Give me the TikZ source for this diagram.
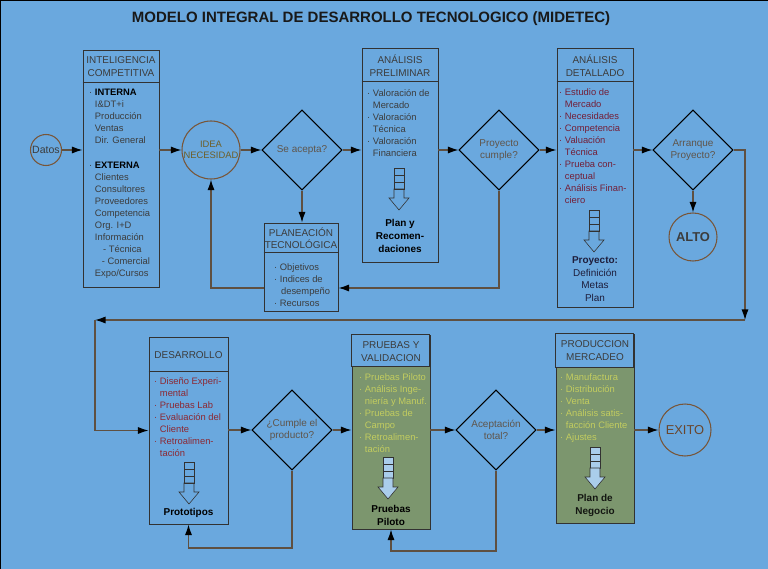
\documentclass[tikz,border=0pt]{standalone}
\usepackage{fontspec}
\setmainfont{Liberation Sans}
\usetikzlibrary{shapes.geometric,arrows.meta,calc}
\newcommand\pxl{0.03cm}
\newcommand\bind{\phantom{· }}
\definecolor{bgblue}{RGB}{106,168,222}
\definecolor{boxgreen}{RGB}{124,150,110}
\definecolor{boxline}{RGB}{50,50,50}
\definecolor{connline}{RGB}{95,80,65}
\definecolor{circline}{RGB}{120,85,55}
\definecolor{graytext}{RGB}{60,60,60}
\definecolor{maroontext}{RGB}{115,30,55}
\definecolor{redtext}{RGB}{140,40,50}
\definecolor{greentext}{RGB}{195,205,95}
\definecolor{navytext}{RGB}{30,30,60}
\definecolor{dectext}{RGB}{95,85,75}
\definecolor{ideatext}{RGB}{110,95,40}
\definecolor{brtext}{RGB}{105,70,45}
\definecolor{lightarrow}{RGB}{170,205,235}
\def\iconfill{none}
\tikzset{
  iconfill/.code={\def\iconfill{#1}},
  iconline/.style={draw=boxline, line width=0.5pt},
  docicon/.pic={
    \draw[iconline,fill=\iconfill] (-5,0) rectangle (5,7);
    \draw[iconline,fill=\iconfill] (-5,7) rectangle (5,14);
    \draw[iconline,fill=\iconfill] (-5,14) rectangle (5,21);
    \draw[iconline,fill=\iconfill] (-5,21) -- (5,21) -- (5,30) -- (10,30) -- (0,42) -- (-10,30) -- (-5,30) -- cycle;
  },
  box/.style={rectangle, draw=boxline, line width=0.8pt, fill=bgblue, inner sep=0},
  gbox/.style={box, fill=boxgreen},
  hline/.style={draw=boxline, line width=0.8pt},
  dec/.style={diamond, aspect=1, draw=black, line width=0.9pt, fill=bgblue, inner sep=0,
    minimum width={80*\pxl}, minimum height={80*\pxl}, align=center, text=dectext,
    font=\fontsize{8.5}{9.8}\selectfont},
  circ/.style={circle, draw=circline, line width=0.9pt, fill=bgblue, inner sep=0, align=center},
  conn/.style={draw=connline, line width=1pt, -{Latex[length=9pt,width=6pt,color=black]}},
  plain/.style={draw=connline, line width=1pt},
  body/.style={anchor=north west, inner sep=0, align=left, font=\fontsize{8}{10.3}\selectfont},
  hdr/.style={inner sep=0, align=center, text=graytext, font=\fontsize{8.5}{11}\selectfont},
  outp/.style={inner sep=0, align=center, font=\bfseries\fontsize{8.5}{11}\selectfont}
}
\begin{document}
\begin{tikzpicture}[x=0.03cm, y=-0.03cm]
\useasboundingbox (0,0) rectangle (768,569);
\fill[bgblue] (0,0) rectangle (768,569);
\draw[black, line width=1.5pt] (0,569) -- (0,0.5) -- (768,0.5);

\node[inner sep=0, font=\bfseries\fontsize{12.8}{15}\selectfont, text=black!90] (title) at (371,19) {MODELO INTEGRAL DE DESARROLLO TECNOLOGICO (MIDETEC)};

% ---- boxes ----
\node[box, minimum width={76*\pxl}, minimum height={237*\pxl}] (intel) at (121,168.5) {};
\draw[hline] ($(intel.north west)+(0,33)$) -- ($(intel.north east)+(0,33)$);
\node[box, minimum width={76*\pxl}, minimum height={214*\pxl}] (prelim) at (400,155) {};
\draw[hline] ($(prelim.north west)+(0,34)$) -- ($(prelim.north east)+(0,34)$);
\node[box, minimum width={76*\pxl}, minimum height={259*\pxl}] (det) at (595,177.5) {};
\draw[hline] ($(det.north west)+(0,34)$) -- ($(det.north east)+(0,34)$);
\node[box, minimum width={74*\pxl}, minimum height={88*\pxl}] (plan) at (301,267) {};
\draw[hline] ($(plan.north west)+(0,30)$) -- ($(plan.north east)+(0,30)$);
\node[box, minimum width={79*\pxl}, minimum height={187*\pxl}] (des) at (188.5,430.5) {};
\draw[hline] ($(des.north west)+(0,35)$) -- ($(des.north east)+(0,35)$);
\node[gbox, minimum width={78*\pxl}, minimum height={194*\pxl}] (pru) at (391,432) {};
\filldraw[fill=bgblue, hline] (pru.north west) rectangle ($(pru.north west)+(78,32)$);
\node[gbox, minimum width={78*\pxl}, minimum height={189*\pxl}] (prod) at (595,428.5) {};
\filldraw[fill=bgblue, hline] (prod.north west) rectangle ($(prod.north west)+(78,34)$);

% ---- circles and decisions ----
\node[circ, minimum size={31*\pxl}, text=graytext, font=\fontsize{9}{10}\selectfont] (datos) at (46,150) {Datos};
\node[circ, minimum size={58*\pxl}, text=ideatext, font=\fontsize{8}{9.4}\selectfont] (idea) at (211,150) {IDEA\\NECESIDAD};
\node[circ, minimum size={48*\pxl}, text=graytext, font=\bfseries\fontsize{11}{12}\selectfont] (alto) at (693,237) {ALTO};
\node[circ, minimum size={52*\pxl}, text=brtext, font=\fontsize{11}{12}\selectfont] (exito) at (685,430) {EXITO};
\node[dec] (sea) at (302,150) {Se acepta?};
\node[dec] (pc) at (499,150) {Proyecto\\cumple?};
\node[dec] (arr) at (693,150) {Arranque\\Proyecto?};
\node[dec] (cp) at (292,430) {¿Cumple el\\producto?};
\node[dec] (at) at (496,430) {Aceptación\\total?};

% ---- headers ----
\node[hdr] (intelh) at (121,66.5) {INTELIGENCIA\\COMPETITIVA};
\node[hdr] (prelimh) at (400,65.5) {ANÁLISIS\\PRELIMINAR};
\node[hdr] (deth) at (595,65.5) {ANÁLISIS\\DETALLADO};
\node[hdr, font=\fontsize{8.5}{10}\selectfont] (planh) at (301,238.5) {PLANEACIÓN\\TECNOLÓGICA};
\node[hdr] (desh) at (188.5,355) {DESARROLLO};
\node[hdr] (pruh) at (391,352) {PRUEBAS Y\\VALIDACION};
\node[hdr] (prodh) at (595,351) {PRODUCCION\\MERCADEO};

% ---- bodies ----
\node[body, text=graytext] (intelb) at (89,89) {· \textcolor{black}{\bfseries INTERNA}\\
\bind I\&DT+i\\ \bind Producción\\ \bind Ventas\\ \bind Dir. General\\[10.3pt]
· \textcolor{black}{\bfseries EXTERNA}\\ \bind Clientes\\ \bind Consultores\\ \bind Proveedores\\
\bind Competencia\\ \bind Org. I+D\\ \bind Información\\ \bind\hspace{7pt}- Técnica\\
\bind\hspace{6pt}- Comercial\\ \bind Expo/Cursos};
\node[body, text=graytext] (prelimb) at (367,89) {· Valoración de\\ \bind Mercado\\ · Valoración\\ \bind Técnica\\ · Valoración\\ \bind Financiera};
\node[body, text=graytext] (planb) at (274,263) {· Objetivos\\ · Indices de\\ \bind\hspace{1pt}desempeño\\ · Recursos};
\node[body, text=maroontext] (detb) at (559,88) {· Estudio de\\ \bind Mercado\\ · Necesidades\\ · Competencia\\ · Valuación\\ \bind Técnica\\ · Prueba con-\\ \bind ceptual\\ · Análisis Finan-\\ \bind ciero};
\node[body, text=redtext] (desb) at (154,377) {· Diseño Experi-\\ \bind mental\\ · Pruebas Lab\\ · Evaluación del\\ \bind Cliente\\ · Retroalimen-\\ \bind tación};
\node[body, text=greentext] (prub) at (359,373) {· Pruebas Piloto\\ · Análisis Inge-\\ \bind niería y Manuf.\\ · Pruebas de\\ \bind Campo\\ · Retroalimen-\\ \bind tación};
\node[body, text=greentext] (prodb) at (560,373) {· Manufactura\\ · Distribución\\ · Venta\\ · Análisis satis-\\ \bind facción Cliente\\ · Ajustes};

% ---- icons ----
\pic at (399,168) {docicon};
\pic at (594,210) {docicon};
\pic at (189,462) {docicon};
\pic[iconfill=lightarrow] at (388,457) {docicon};
\pic[iconfill=lightarrow] at (595,447) {docicon};

% ---- outputs ----
\node[outp] (prelimo) at (400,236) {Plan y\\Recomen-\\daciones};
\node[inner sep=0, align=center, text=navytext, font=\fontsize{8.5}{10.8}\selectfont] (deto) at (595,279) {\textbf{Proyecto:}\\Definición\\Metas\\Plan};
\node[outp] (deso) at (188.5,513) {Prototipos};
\node[outp] (pruo) at (391,515) {Pruebas\\Piloto};
\node[outp, text=black!85!boxgreen] (prodo) at (595,505) {Plan de\\Negocio};

% ---- connectors ----
\draw[conn] (datos) -- (datos -| intel.west);
\draw[conn] (intel.east |- idea) -- (idea);
\draw[conn] (idea) -- (sea);
\draw[conn] (sea) -- (sea -| prelim.west);
\draw[conn] (prelim.east |- pc) -- (pc);
\draw[conn] (pc) -- (pc -| det.west);
\draw[conn] (det.east |- arr) -- (arr);
\draw[conn] (arr) -- (alto);
\draw[conn] (sea) -- (sea |- plan.north);
\coordinate (pcb) at (499,288);
\draw[conn] (pc) -- (pcb) -- (pcb -| plan.east);
\coordinate (plb) at (211,288);
\draw[conn] (plb -| plan.west) -- (plb) -- (idea);
\coordinate (c1) at (745,150);
\coordinate (c2) at (745,320);
\coordinate (c3) at (95,320);
\draw[conn] (arr) -- (c1) -- (c2);
\draw[conn] (c2) -- (c3);
\draw[conn] (c3) |- (des.west);
\draw[conn] (des.east |- cp) -- (cp);
\draw[conn] (cp) -- (cp -| pru.west);
\draw[conn] (pru.east |- at) -- (at);
\draw[conn] (at) -- (at -| prod.west);
\draw[conn] (prod.east |- exito) -- (exito);
\coordinate (cpb) at (292,548);
\draw[conn] (cp) -- (cpb) -| (des.south);
\coordinate (atb) at (496,551);
\draw[conn] (at) -- (atb) -| (pru.south);
\end{tikzpicture}
\end{document}
